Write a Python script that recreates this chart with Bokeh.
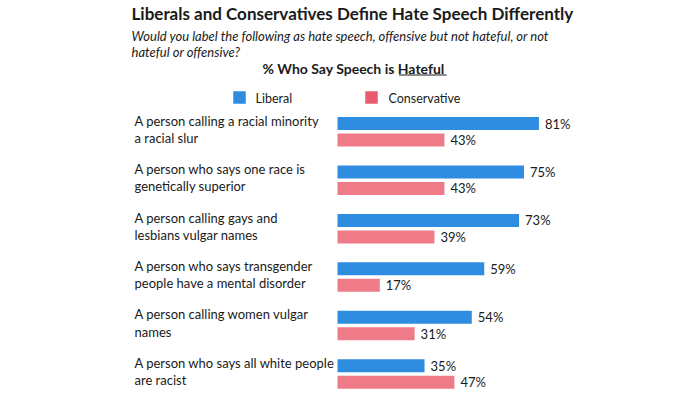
from bokeh.plotting import figure
from bokeh.models import Range1d
from bokeh.core.properties import value
from bokeh.embed import file_html
from bokeh.resources import INLINE

# ---------------- data ----------------
title = "Liberals and Conservatives Define Hate Speech Differently"
subtitle = ["Would you label the following as hate speech, offensive but not hateful, or not",
            "hateful or offensive?"]
heading = "% Who Say Speech is "
heading_u = "Hateful"
series_names = ["Liberal", "Conservative"]
categories = [
    "A person calling a racial minority\na racial slur",
    "A person who says one race is\ngenetically superior",
    "A person calling gays and\nlesbians vulgar names",
    "A person who says transgender\npeople have a mental disorder",
    "A person calling women vulgar\nnames",
    "A person who says all white people\nare racist",
]
liberal = [81, 75, 73, 59, 54, 35]
conservative = [43, 43, 39, 17, 31, 47]

# ---------------- layout (image pixel geometry) ----------------
W, H, OFF = 684, 392, 0
X0, S = 337.0, 2.487        # image px of 0 %, px per %
Y0, ROW = 131.25, 48.45     # image px of first row centre, px per row
BLUE, PINK, PINK_LEG = "#2e8de0", "#ef7b89", "#e95b6f"
TXT = "#1a1a1a"
FONT = value("Lato")

def X(px):
    return (px - X0) / S

def Y(py):
    return (py - Y0) / ROW

p = figure(width=W, height=H, output_backend="svg", toolbar_location=None,
           x_range=Range1d(X(OFF), X(OFF + W)), y_range=Range1d(Y(OFF + H), Y(OFF)),
           min_border=0, x_axis_location=None, y_axis_location=None,
           background_fill_color="white", border_fill_color="white")
p.grid.visible = False
p.outline_line_color = None

idx = list(range(len(categories)))
off = 8.25 / ROW
bh = 13.0 / ROW
yl = [i - off for i in idx]
yc = [i + off for i in idx]

p.hbar(y=yl, left=0, right=liberal, height=bh, fill_color=BLUE, line_color=None)
p.hbar(y=yc, left=0, right=conservative, height=bh, fill_color=PINK, line_color=None)

p.text(x=liberal, y=yl, text=[f"{v}%" for v in liberal], x_offset=6,
       text_font=FONT, text_font_size="13px", text_color=TXT,
       text_align="left", text_baseline="middle")
p.text(x=conservative, y=yc, text=[f"{v}%" for v in conservative], x_offset=6,
       text_font=FONT, text_font_size="13px", text_color=TXT,
       text_align="left", text_baseline="middle")

# category labels
p.text(x=[X(134)] * len(idx), y=[i - 2.5 / ROW for i in idx], text=categories,
       text_font=FONT, text_font_size="13px", text_color=TXT,
       text_align="left", text_baseline="middle", text_line_height=1.08)

# title & subtitle
p.text(x=[X(131)], y=[Y(13)], text=[title], text_font=FONT, text_font_size="17px",
       text_font_style="bold", text_color=TXT, text_align="left", text_baseline="middle")
p.text(x=[X(131), X(131)], y=[Y(35.5), Y(51)], text=subtitle, text_font=FONT,
       text_font_size="13px", text_font_style="italic", text_color=TXT,
       text_align="left", text_baseline="middle")

# heading with underlined word
p.text(x=[X(262)], y=[Y(67.5)], text=[heading + heading_u], text_font=FONT,
       text_font_size="14px", text_font_style="bold", text_color=TXT,
       text_align="left", text_baseline="middle")
p.segment(x0=[X(398.5)], y0=[Y(74.5)], x1=[X(446)], y1=[Y(74.5)],
          line_color=TXT, line_width=1.2)

# legend
p.scatter(x=[X(239), X(371)], y=[Y(97), Y(97)], marker="square", size=12.5,
          fill_color=[BLUE, PINK_LEG], line_color=None)
p.text(x=[X(255), X(388)], y=[Y(97.5), Y(97.5)], text=series_names, text_font=FONT,
       text_font_size="12.5px", text_color=TXT, text_align="left", text_baseline="middle")

open("out.html", "w").write(file_html(p, INLINE))
